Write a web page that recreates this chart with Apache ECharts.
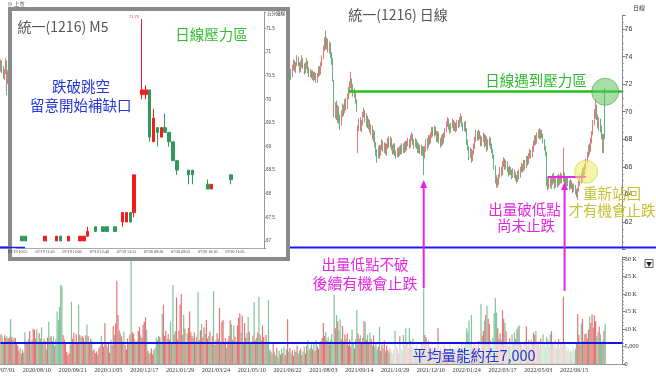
<!DOCTYPE html>
<html><head><meta charset="utf-8">
<script src="https://cdn.jsdelivr.net/npm/echarts@6/dist/echarts.min.js"></script>
<style>html,body{margin:0;padding:0;background:#fff;}#c{width:656px;height:378px;}</style>
</head><body><div id="c"></div>
<script>
// ---------------- DATA ----------------
// Daily axis tick labels (every 30 trading days)
const dayTicks = ['2020/07/01','2020/08/10','2020/09/21','2020/11/05','2020/12/17','2021/01/29','2021/03/24','2021/05/10','2021/06/22','2021/08/03','2021/09/14','2021/10/29','2021/12/10','2022/01/24','2022/03/17','2022/05/03','2022/06/15'];
const DAY_SLOTS = 521;      // trading-day slots on the axis (last ones blank)
const TAIL_START = 243;     // first daily bar visible to the right of the inset
// daily [open, close, low, high] visible at far left (bars 0-7)
const dailyHead = [
 [73.2,73.6,72.9,73.8],[73.6,73.1,72.8,73.7],[73.1,72.6,72.4,73.3],[72.6,72.9,72.3,73.1],
 [72.9,73.5,72.7,73.9],[73.5,72.3,71.2,73.7],[72.3,72.8,72.0,73.0],[72.8,73.2,72.6,73.4]
];
// daily [open, close, low, high] from bar 243 to 506 (bars 8-242 are hidden behind the inset)
const dailyTail = [
 [72.9,72.5,72.3,73.1],[72.6,73.2,72.5,73.4],[73.2,73.6,73.0,73.8],[73.5,73.1,72.9,73.7],
 [73.1,73.4,72.8,73.6],[73.4,73.9,73.3,74.1],[73.9,73.5,73.3,74.0],[73.4,73.0,72.8,73.6],
 [73.0,73.5,72.9,73.7],[73.5,73.8,73.2,74.1],[73.8,73.3,73.1,73.9],[73.3,72.9,72.7,73.5],
 [72.9,73.4,72.8,73.6],[73.4,73.6,73.1,73.9],[73.5,73.0,72.8,73.7],[73.0,72.7,72.5,73.2],
 [72.7,72.9,72.5,73.1],[72.9,72.6,72.4,73.0],[72.6,72.8,72.3,73.0],[72.8,72.4,72.2,72.9],
 [72.4,72.7,72.3,72.9],[72.7,72.3,72.1,72.8],[72.3,72.6,72.1,72.8],[72.6,73.1,72.5,73.3],
 [73.1,72.8,72.6,73.3],[72.8,73.4,72.7,73.6],
 [73.4,73.9,73.3,74.1],[73.9,74.6,73.8,74.8],[74.6,75.2,74.4,75.4],[75.2,74.8,74.5,75.9],
 [74.8,75.1,74.5,75.4],[75.1,74.6,74.3,75.3],[74.6,74.9,74.2,75.1],[74.9,74.2,73.9,75.0],
 [74.2,73.6,73.4,74.3],[73.8,72.4,72.2,73.9],[72.2,70.0,69.6,72.3],[69.9,70.4,69.5,70.7],
 [70.4,69.7,69.4,70.8],[69.7,70.3,69.2,70.5],[70.2,69.5,69.1,70.4],[69.4,69.1,68.7,69.8],
 [69.2,69.9,69.0,70.1],[69.9,70.3,69.6,70.6],[70.3,70.0,69.7,70.5],[70.0,70.7,69.9,70.9],
 [70.7,70.4,70.1,71.0],[70.4,71.1,70.2,71.3],[71.1,71.6,70.9,71.8],[71.6,71.9,71.3,72.2],
 [71.9,72.3,71.7,72.9],[72.2,71.8,71.5,72.4],[71.8,71.3,71.1,72.0],[71.3,71.5,71.0,71.7],
 [71.3,70.9,70.6,71.4],
 [70.8,70.2,70.0,70.9],[67.2,68.8,67.0,69.0],
 [68.8,69.3,68.6,69.5],[69.3,68.9,68.6,69.6],[68.9,69.1,68.5,69.4],[69.1,69.8,69.0,70.0],
 [69.8,70.1,69.6,70.3],[70.0,69.4,69.2,70.1],[69.4,69.6,68.9,69.9],[69.6,69.0,68.8,69.7],
 [69.0,69.3,68.7,69.5],[69.3,68.7,68.5,69.4],[68.7,68.9,68.3,69.1],
 [68.9,68.2,68.0,69.0],[68.2,68.5,67.8,68.7],[68.5,67.6,67.4,68.6],[67.6,67.1,66.8,67.8],
 [67.1,66.7,66.3,67.3],[66.7,67.3,66.6,67.5],[67.3,66.9,66.6,67.6],
 [66.9,67.4,66.8,67.6],[67.4,67.8,67.2,68.0],[67.8,67.3,67.1,67.9],[67.3,67.6,67.0,67.8],
 [67.6,67.1,66.9,67.7],[67.1,67.5,66.8,67.7],[67.5,67.9,67.3,68.1],[67.9,67.6,67.4,68.2],
 [67.6,68.0,67.4,68.2],[68.0,67.4,67.2,68.1],[67.4,67.1,66.9,67.6],[67.1,67.5,66.9,67.7],
 [67.5,67.0,66.8,67.7],[67.0,66.8,66.6,67.2],[66.8,67.2,66.7,67.4],[67.2,66.9,66.7,67.4],
 [66.9,67.4,66.8,67.5],[67.4,67.1,66.9,67.6],[67.1,67.5,66.9,67.7],[67.5,67.2,67.0,67.7],
 [67.2,67.6,67.0,67.8],[67.6,67.3,67.1,67.9],[67.3,67.7,67.2,67.9],[67.7,67.9,67.5,68.1],
 [67.9,67.5,67.3,68.0],[67.5,68.1,67.4,68.3],[68.1,68.3,67.9,68.5],[68.3,67.8,67.6,68.4],
 [67.8,67.5,67.3,68.0],[67.5,67.9,67.4,68.1],[67.9,67.6,67.3,68.0],[67.6,67.2,67.0,67.8],
 [67.2,67.5,67.0,67.7],[67.5,67.1,66.9,67.6],[67.1,67.4,66.8,67.6],[67.4,67.0,66.8,67.5],
 [67.0,66.6,65.4,67.5],
 [66.7,67.3,66.6,67.5],[67.3,67.8,67.1,68.0],[67.8,67.5,67.2,68.1],[67.5,68.1,67.4,68.3],
 [68.1,67.8,67.6,68.3],[67.8,68.3,67.7,68.5],[68.3,68.7,68.1,68.9],[68.7,68.4,68.2,68.9],
 [68.4,68.8,68.2,69.0],[68.8,68.5,68.3,68.9],[68.5,68.0,67.8,68.6],[68.0,68.4,67.8,68.6],
 [68.4,67.9,67.7,68.5],[67.9,67.6,67.4,68.1],[67.6,68.1,67.5,68.3],[68.1,67.8,67.6,68.4],
 [67.8,68.3,67.7,68.5],[68.3,68.6,68.1,68.8],
 [68.6,69.1,68.5,69.3],[69.1,69.4,68.9,69.6],[69.4,68.9,68.7,69.5],[68.9,68.6,68.4,69.1],
 [68.6,69.0,68.5,69.2],[69.0,69.3,68.8,69.5],[69.3,68.8,68.6,69.4],[68.8,69.1,68.6,69.3],
 [69.1,68.7,68.5,69.2],[68.7,69.2,68.6,69.4],[69.2,69.0,68.8,69.4],[69.0,69.4,68.9,69.6],
 [69.4,69.6,69.2,69.9],[69.6,69.1,68.9,69.7],[69.1,68.8,68.6,69.2],[68.8,69.2,68.6,69.3],
 [69.2,68.7,68.5,69.3],
 [68.7,67.8,67.6,68.8],[67.8,67.4,67.2,68.0],[67.4,66.8,66.5,67.5],[66.8,67.2,66.6,67.4],
 [67.2,66.6,66.3,67.3],[66.6,67.0,66.4,67.2],[67.0,67.5,66.9,67.7],
 [67.5,68.0,67.3,68.2],[68.0,68.4,67.8,68.7],[68.4,68.1,67.9,68.6],[68.1,68.5,67.9,68.7],
 [68.5,68.2,68.0,68.6],[68.2,67.7,67.5,68.3],
 [67.7,68.0,67.5,68.2],[68.0,68.3,67.8,68.5],[68.3,67.6,67.4,68.4],[67.6,68.1,67.5,68.3],
 [68.1,67.3,67.1,68.2],[67.3,67.8,67.2,68.0],[67.8,68.0,67.5,68.2],[68.0,67.5,67.3,68.1],
 [67.5,67.2,67.0,67.7],
 [67.2,66.8,66.6,67.3],[66.8,66.0,65.8,66.9],[66.0,65.0,64.8,66.1],[65.0,64.7,64.5,65.4],
 [64.7,64.9,64.5,65.2],[64.9,65.3,64.7,65.5],[65.3,65.8,65.2,66.0],[65.8,65.5,65.3,66.0],
 [65.5,66.2,65.4,66.4],[66.2,66.5,66.0,66.7],[66.5,66.0,65.8,66.6],[66.0,66.3,65.8,66.5],
 [66.3,65.8,65.6,66.4],[65.8,65.5,65.3,66.0],[65.5,65.9,65.4,66.1],[65.9,65.6,65.4,66.0],
 [65.6,65.3,65.1,65.8],
 [65.3,65.7,65.2,65.9],[65.7,65.4,65.2,65.8],[65.4,65.2,65.0,65.6],[65.2,65.0,64.8,65.4],
 [65.0,65.5,64.9,65.7],[65.5,65.3,65.1,65.8],[65.3,65.8,65.2,66.0],[65.8,66.1,65.6,66.3],
 [66.1,65.8,65.6,66.2],[65.8,66.3,65.7,66.5],[66.3,66.0,65.8,66.5],[66.0,66.6,65.9,66.8],
 [66.6,66.3,66.1,66.8],[66.3,66.8,66.2,67.0],[66.8,67.1,66.6,67.3],[67.1,66.8,66.6,67.2],
 [66.8,67.3,66.7,67.5],[67.3,67.7,67.1,67.9],
 [67.7,68.1,67.5,68.3],[68.1,67.8,67.6,68.3],[67.8,68.3,67.7,68.5],[68.3,68.5,68.1,68.7],
 [68.5,68.2,68.0,68.8],[68.2,68.6,68.0,68.7],[68.6,68.3,68.1,68.7],[68.3,67.9,67.7,68.4],
 [67.9,67.5,67.2,68.0],
 [67.3,67.0,66.8,67.5],[66.6,65.0,64.6,67.1],[65.0,64.6,64.3,65.3],[64.6,65.0,64.4,65.3],
 [65.0,64.7,64.5,65.3],[64.7,64.9,64.4,65.2],[64.9,65.3,64.7,65.5],[65.3,65.0,64.8,65.6],
 [65.0,64.6,64.4,65.2],[64.6,65.1,64.5,65.3],[65.1,64.8,64.5,65.4],[64.8,65.2,64.6,65.5],
 [65.2,64.9,64.7,65.4],[64.9,65.3,64.8,65.6],[65.3,65.0,64.8,65.5],[65.0,65.5,64.9,67.4],
 [65.4,65.0,64.8,65.6],[65.0,64.7,64.5,65.2],[64.7,65.1,64.6,65.3],[65.1,64.8,64.6,65.2],
 [64.8,64.5,64.3,65.0],[64.5,64.9,64.4,65.1],[64.9,64.6,64.4,65.0],[64.6,64.3,64.1,64.8],
 [64.3,64.6,64.2,64.8],[64.6,64.2,64.0,64.7],[64.2,64.0,63.8,64.4],[64.0,64.3,63.6,64.5],
 [64.3,64.8,64.2,65.0],[64.8,65.2,64.6,65.4],[65.2,65.0,64.8,65.6],[65.0,65.7,64.9,65.9],
 [65.7,65.5,65.3,66.0],[65.5,66.0,65.4,66.2],[66.0,66.4,65.8,66.6],
 [66.4,66.9,66.3,67.1],[66.9,67.4,66.7,67.6],[67.4,67.2,66.9,67.7],[67.2,67.9,67.1,68.1],
 [67.9,68.4,67.7,68.6],[68.4,69.2,68.3,69.4],[69.2,69.9,69.0,70.2],[69.9,70.3,69.5,70.9],
 [70.3,69.6,69.4,70.5],[69.6,69.1,68.8,69.8],[69.1,69.4,68.6,69.6],[69.4,68.8,68.5,69.5],
 [68.8,68.2,68.0,69.0],
 [68.2,67.3,67.0,68.4],[67.1,68.4,67.0,68.4],[70.1,68.3,68.0,71.7]
];
// daily volume (thousand shares), bars 0-506
const volumes = [
 8.5,7.9,6.3,8.2,7.5,7.9,7.2,7.6,12.8,7.8,
 6.9,7.6,7.4,6.1,5.3,3.8,4.6,2.9,4.1,3.2,
 9.1,6.4,5.8,7.1,9.4,5.6,6.8,10.1,9.8,7.2,
 9.9,6.4,8.8,7.3,10.5,5.9,7.2,6.6,4.2,7.6,
 12.1,7.4,8.0,6.6,7.9,5.2,7.1,15.0,12.6,16.3,
 22.5,22.4,8.2,7.0,6.1,3.4,2.6,3.1,5.6,17.8,
 7.2,9.0,6.3,8.5,6.0,17.0,8.3,7.4,8.1,7.6,
 6.4,8.2,11.3,7.9,5.9,7.3,6.6,3.8,4.2,3.1,
 3.6,2.8,4.4,5.1,8.0,6.2,4.9,11.7,5.6,4.8,
 5.9,3.2,6.9,5.4,10.8,8.3,11.6,23.8,14.0,9.6,
 8.8,7.9,6.4,9.2,5.5,4.1,7.3,6.2,8.4,31.0,
 9.1,8.7,7.0,5.8,6.6,9.4,10.6,8.2,7.6,11.2,
 12.0,13.3,9.7,3.8,2.9,3.3,4.5,2.7,3.9,4.6,
 7.4,6.8,8.1,7.7,6.3,14.3,16.9,8.0,9.5,7.2,
 8.6,6.9,12.1,5.8,22.6,8.4,9.4,19.0,7.0,9.6,
 17.0,20.0,8.3,14.0,10.1,6.2,8.7,10.3,15.0,9.1,
 8.0,7.4,9.0,6.5,7.7,20.5,6.8,9.6,11.4,7.6,
 10.5,8.6,12.6,7.3,8.0,9.3,6.2,7.9,20.8,5.4,
 6.8,8.8,7.2,16.0,6.4,12.0,12.6,5.7,7.4,4.6,
 6.7,8.1,12.5,11.3,6.9,11.0,7.8,6.4,11.0,13.2,
 14.5,9.0,13.8,6.2,11.7,7.5,8.8,13.4,9.2,5.6,
 6.4,8.1,17.7,6.8,7.5,9.0,19.2,8.4,6.9,11.0,
 7.7,5.9,8.3,6.4,18.2,4.1,3.6,2.8,6.0,3.3,
 2.4,4.6,1.9,3.8,2.7,4.4,3.1,5.0,2.5,4.2,
 12.8,3.5,4.6,2.8,3.9,2.3,4.1,3.4,5.2,2.9,
 3.8,4.4,2.6,3.6,4.9,3.0,5.3,6.8,3.9,4.5,
 5.6,4.2,6.1,3.7,6.8,5.0,4.3,5.8,6.6,7.4,
 11.7,8.0,9.2,6.7,7.8,5.6,6.9,8.6,6.3,19.7,
 10.2,14.0,12.2,9.6,12.8,7.0,10.9,6.5,8.4,7.2,
 8.8,5.3,6.9,4.8,9.9,6.0,4.4,7.1,15.4,8.7,
 7.3,8.2,6.1,7.6,12.3,11.9,6.9,8.4,6.3,9.0,
 7.1,5.2,8.2,5.0,6.0,4.1,4.9,10.6,3.8,5.6,
 4.5,6.7,3.6,5.2,4.0,3.2,4.6,3.5,2.9,4.1,
 9.5,5.0,4.3,3.1,7.9,4.4,3.8,8.3,5.3,10.2,
 5.9,4.6,10.2,6.6,4.8,7.2,3.9,4.4,5.5,3.4,
 4.7,3.6,5.8,6.3,21.6,8.3,7.6,4.1,6.7,5.0,
 3.3,4.8,2.9,5.1,3.7,4.2,10.2,3.4,4.6,3.9,
 2.8,5.4,4.5,3.1,4.0,2.6,5.6,3.5,4.3,2.8,
 3.9,4.7,3.0,5.2,4.1,3.6,6.0,4.4,5.1,6.2,
 10.2,9.0,12.4,5.9,14.0,4.8,6.2,3.9,5.4,4.6,
 6.6,4.3,17.2,8.1,9.4,12.4,14.0,16.6,12.9,11.4,
 6.8,4.9,7.6,14.5,18.8,14.7,10.2,7.1,8.7,6.9,
 15.4,12.9,11.7,9.3,6.3,5.0,7.4,4.8,8.4,6.1,
 9.0,7.2,9.9,10.5,11.1,6.0,5.5,4.4,5.9,6.4,
 10.7,5.1,6.8,4.6,7.0,5.7,9.0,8.3,9.4,5.6,
 6.5,4.9,7.3,5.4,8.5,6.0,4.7,7.8,6.9,5.2,
 8.4,9.4,6.2,5.3,6.8,4.5,5.9,7.1,4.2,6.0,
 5.1,19.2,6.4,5.2,3.8,4.6,3.2,4.0,3.5,4.9,
 3.7,4.4,6.1,14.2,8.3,5.6,11.6,12.9,6.6,8.5,
 8.7,7.2,9.8,13.6,11.7,14.2,10.4,13.9,12.2,7.9,
 9.1,10.7,8.4,5.8,6.7,9.6,11.6
];
// up/down colour of the volume bars whose candles are hidden (bars 0-242): r = up, g = down
const volDirHidden =
 'rrrrrrrrgr'+'rgrrrrgrrg'+'grrgrgrrrr'+'ggrggrgrgr'+'ggrggrgggg'+'ggrrrrrrrg'+
 'rrgrrgrgrr'+'grgrrgrrrr'+'rgrrgrrrrg'+'rrgrrgrrrr'+'grrgrrrgrg'+'rrgrgrrgrr'+
 'rrgrrgrrrg'+'gggrggrrrg'+'rrgrgrgrrr'+'rrggrrgrrr'+'rgrgrgrrgr'+'rgrrgrgrgg'+
 'rrgrgrrgrg'+'rrrgrgrgrr'+'rgrgrrggrg'+'grgrgrgrgr'+'rgrgggrgrg'+'grggrgrgrg'+'rgr';
// inset M5 chart: tick labels every 7 five-minute slots
const m5Ticks = ['07/19 10:55','07/19 11:30','07/19 12:05','07/19 12:40','07/19 13:15','07/20 09:20','07/20 09:55','07/20 10:30','07/20 11:05'];
const M5_SLOTS = 64;
// inset 5-minute bars: [slot, open, close, low, high]
const m5Bars = [
 [1,67.1,67.0,67.0,67.1],[2,67.1,67.0,67.0,67.1],[7,67.0,67.1,67.0,67.1],[10,67.0,67.1,67.0,67.1],
 [11,67.1,67.0,67.0,67.1],[13,67.0,67.1,67.0,67.1],[16,67.0,67.1,67.0,67.1],[17,67.0,67.1,67.0,67.1],
 [18,67.1,67.2,67.1,67.3],[20,67.3,67.2,67.2,67.3],[22,67.3,67.2,67.2,67.3],[23,67.3,67.2,67.2,67.3],
 [25,67.3,67.2,67.2,67.3],[27,67.4,67.6,67.3,67.6],[28,67.4,67.6,67.4,67.6],[29,67.6,67.4,67.4,67.6],
 [30,67.6,68.4,67.5,68.4],[32,70.1,70.2,70.0,71.7],[33,70.1,70.2,70.0,70.3],[34,70.2,69.2,69.1,70.2],
 [35,69.1,69.6,69.1,69.8],[36,69.4,69.3,69.0,69.4],[37,69.2,69.4,69.2,69.4],[38,69.4,69.3,69.3,69.7],
 [39,69.3,69.1,69.0,69.3],[40,69.1,68.7,68.7,69.1],[41,68.7,68.5,68.4,68.7],[44,68.5,68.4,68.2,68.5],
 [45,68.5,68.4,68.2,68.5],[49,68.2,68.1,68.1,68.3],[50,68.1,68.2,68.1,68.2],[55,68.4,68.3,68.2,68.4]
];
// annotation levels
const dailyResist = 71.45, dailyLowLine = 65.3, avgVolume = 6.0;
const m5Resist = 71.7, m5GapLine = 70.1;

// ---------------- BUILD ----------------
const CJK = '"Noto Sans CJK TC","Noto Sans CJK SC",sans-serif';
const UP = '#e57a7a', DN = '#64b27f', VUP = '#e77474', VDN = '#80c49b';
const dayCats = Array.from({length: DAY_SLOTS}, (_, i) => String(i));
const candle = new Array(DAY_SLOTS).fill('-');
dailyHead.forEach((d, i) => candle[i] = d);
dailyTail.forEach((d, i) => candle[TAIL_START + i] = d);
const volData = volumes.map((v, i) => {
  const c = candle[i];
  const up = c !== '-' ? c[1] >= c[0] : volDirHidden[i] === 'r';
  return {value: v, itemStyle: {color: up ? VUP : VDN}};
});
const m5Cats = Array.from({length: M5_SLOTS}, (_, i) => String(i));
const m5Data = new Array(M5_SLOTS).fill('-');
m5Bars.forEach(b => m5Data[b[0]] = [b[1], b[2], b[3], b[4]]);

const dayTickFn = (i) => i % 30 === 0 && i / 30 < dayTicks.length;
const m5TickFn = (i) => i % 7 === 0 && i / 7 < m5Ticks.length;

const chart = echarts.init(document.getElementById('c'), null, {renderer: 'canvas'});
const option = {
  animation: false,
  grid: [
    {left: 0.4, right: 33.5, top: 15.2, height: 234.4, outerBoundsMode: 'none', containLabel: false},
    {left: 0.4, right: 33.5, top: 257, height: 107, outerBoundsMode: 'none', containLabel: false},
    {left: 16, top: 12, width: 248, height: 236, outerBoundsMode: 'none', containLabel: false}
  ],
  xAxis: [
    {type: 'category', gridIndex: 0, data: dayCats, show: false},
    {type: 'category', gridIndex: 1, data: dayCats,
     axisLine: {lineStyle: {color: '#999'}},
     axisTick: {alignWithLabel: true, interval: dayTickFn, length: 3, lineStyle: {color: '#777'}},
     axisLabel: {interval: dayTickFn, formatter: (v, i) => dayTicks[i / 30] || '', fontSize: 6.2,
                 fontFamily: 'Liberation Serif', color: '#333', margin: 3, alignMinLabel: 'center', alignMaxLabel: 'center'}},
    {type: 'category', gridIndex: 2, data: m5Cats, zlevel: 2,
     axisLine: {lineStyle: {color: '#aaa'}},
     axisTick: {alignWithLabel: true, interval: m5TickFn, length: 2, lineStyle: {color: '#999'}},
     axisLabel: {interval: m5TickFn, formatter: (v, i) => m5Ticks[i / 7] || '', fontSize: 4,
                 fontFamily: 'Liberation Serif', color: '#333', margin: 2}}
  ],
  yAxis: [
    {type: 'value', gridIndex: 0, position: 'right', min: 60, max: 77, interval: 2, splitLine: {show: false},
     axisLine: {show: true, lineStyle: {color: '#888'}},
     axisTick: {show: true, length: 3, lineStyle: {color: '#777'}},
     minorTick: {show: true, splitNumber: 4, length: 1.5, lineStyle: {color: '#aaa'}},
     axisLabel: {formatter: v => (v >= 62 && v <= 76 && v % 2 === 0) ? String(v) : '', fontSize: 7,
                 fontFamily: 'Liberation Sans', color: '#333', margin: 2}},
    {type: 'value', gridIndex: 1, position: 'right', min: 0, max: 30.57, interval: 5, splitLine: {show: false},
     axisLine: {show: true, lineStyle: {color: '#888'}},
     axisTick: {show: true, length: 3, lineStyle: {color: '#777'}},
     minorTick: {show: true, splitNumber: 5, length: 1.5, lineStyle: {color: '#aaa'}},
     axisLabel: {formatter: v => v === 0 ? '0' : v === 5 ? '5,000' : (v % 5 === 0 && v <= 30) ? v + ' K' : '',
                 fontSize: 6.3, fontFamily: 'Liberation Serif', color: '#333', margin: 2}},
    {type: 'value', gridIndex: 2, position: 'right', min: 66.85, max: 71.85, splitNumber: 10, zlevel: 2,
     splitLine: {show: false},
     axisLine: {show: true, lineStyle: {color: '#999'}},
     axisTick: {show: true, length: 2, lineStyle: {color: '#999'}},
     axisLabel: {formatter: v => Math.abs(v * 2 - Math.round(v * 2)) < 1e-6 ? String(v) : '', fontSize: 4.5,
                 fontFamily: 'Liberation Sans', color: '#444', margin: 2}}
  ],
  series: [
    {type: 'candlestick', xAxisIndex: 0, yAxisIndex: 0, data: candle, barWidth: 1,
     itemStyle: {color: UP, color0: DN, borderColor: UP, borderColor0: DN, borderWidth: 1},
     markLine: {silent: true, symbol: 'none', animation: false, label: {show: false},
       data: [
         [{coord: [291, dailyResist], lineStyle: {color: '#1fc21f', width: 2.5, type: 'solid'}}, {coord: [520, dailyResist]}],
         [{coord: [458, dailyLowLine], lineStyle: {color: '#e32ae3', width: 2, type: 'solid'}}, {coord: [490, dailyLowLine]}]
       ]}},
    {type: 'bar', xAxisIndex: 1, yAxisIndex: 1, data: volData, barWidth: 1.2,
     markLine: {silent: true, symbol: 'none', animation: false, label: {show: false},
       lineStyle: {color: '#1515e3', width: 2, type: 'solid'}, data: [{yAxis: avgVolume}]}},
    {type: 'candlestick', xAxisIndex: 2, yAxisIndex: 2, data: m5Data, barWidth: 3, zlevel: 2, z: 5,
     itemStyle: {color: '#f01e1e', color0: '#2f9a5c', borderColor: '#f01e1e', borderColor0: '#2f9a5c', borderWidth: 1},
     markLine: {silent: true, symbol: 'none', animation: false, label: {show: false},
       data: [
         [{coord: [26, m5Resist], lineStyle: {color: '#35c535', width: 2, type: 'solid'}}, {coord: [61, m5Resist]}],
         [{coord: [29, m5GapLine], lineStyle: {color: '#1c38dc', width: 2, type: 'solid'}}, {coord: [41, m5GapLine]}]
       ]}}
  ]
};
chart.setOption(option);

// ---------------- ANNOTATIONS ----------------
const P = (g, x, y) => chart.convertToPixel({gridIndex: g}, [x, y]);
function txt(x, y, s, color, size, zl, extra) {
  return Object.assign({type: 'text', zlevel: zl, z: 100, silent: true,
    style: {x: x, y: y, text: s, fill: color, fontSize: size, fontFamily: CJK,
            textAlign: 'center', textVerticalAlign: 'middle', verticalAlign: 'middle'}}, extra || {});
}
function arrow(xIdx, topPrice, botVol) {
  const t = P(0, xIdx, topPrice), b = P(1, xIdx, botVol);
  const x = t[0];
  return [
    {type: 'line', zlevel: 1, z: 60, silent: true, shape: {x1: x, y1: t[1] + 6, x2: x, y2: b[1]},
     style: {stroke: '#e324e3', lineWidth: 2}},
    {type: 'polygon', zlevel: 1, z: 60, silent: true, shape: {points: [[x, t[1]], [x - 3.5, t[1] + 8], [x + 3.5, t[1] + 8]]},
     style: {fill: '#e324e3'}}
  ];
}
const gC = P(0, 506, dailyResist), yC = P(0, 490, 65.65);
const MAG = '#e229e2', GRN = '#2fb82f', OLV = '#c6c033', BLU = '#2436d8';
const elements = [
  // panel divider
  {type: 'line', zlevel: 0, z: 50, silent: true, shape: {x1: 0, y1: 247.5, x2: 656, y2: 247.5}, style: {stroke: '#1b1bf0', lineWidth: 2}},
  // faded patch under the average-volume caption
  {type: 'rect', zlevel: 1, z: 1, silent: true, shape: {x: 390, y: 344.2, width: 185, height: 19.6}, style: {fill: 'rgba(255,255,255,0.62)'}},
  // inset frame
  {type: 'rect', zlevel: 1, z: 2, silent: true, shape: {x: 10, y: 9, width: 278, height: 250}, style: {fill: '#fff', stroke: '#8a8a8a', lineWidth: 4}},
  {type: 'line', zlevel: 2, z: 100, silent: true, shape: {x1: 0, y1: 247.5, x2: 25, y2: 247.5}, style: {stroke: '#1b1bf0', lineWidth: 1.5}},
  // circles
  {type: 'circle', zlevel: 1, z: 40, silent: true, shape: {cx: gC[0], cy: gC[1], r: 13.5}, style: {fill: 'rgba(95,195,95,0.55)', stroke: 'rgba(70,170,70,0.6)', lineWidth: 1}},
  {type: 'circle', zlevel: 1, z: 40, silent: true, shape: {cx: yC[0], cy: yC[1], r: 11.5}, style: {fill: 'rgba(236,236,100,0.55)', stroke: 'rgba(205,205,70,0.6)', lineWidth: 1}},
  ...arrow(354, 65.05, 21.7),
  ...arrow(472, 64.9, 20.9),
  // main texts
  txt(398, 15, '統一(1216) 日線', '#555', 14, 1),
  txt(536, 80.5, '日線遇到壓力區', GRN, 14.5, 1),
  txt(524.5, 209.5, '出量破低點', MAG, 14.5, 1),
  txt(526, 225.5, '尚未止跌', MAG, 14.5, 1),
  txt(612, 193.5, '重新站回', OLV, 14.5, 1),
  txt(612, 210.5, '才有機會止跌', OLV, 14.5, 1),
  txt(365, 264.5, '出量低點不破', MAG, 14.5, 1),
  txt(365, 283.5, '後續有機會止跌', MAG, 15, 1),
  txt(474, 355.5, '平均量能約在7,000', BLU, 14.5, 1),
  txt(639, 7.5, '日線', '#333', 6, 1),
  txt(16, 3.5, '⊕ 上市', '#666', 5.5, 1),
  // volume panel button
  {type: 'rect', zlevel: 1, z: 50, silent: true, shape: {x: 645, y: 259.5, width: 8, height: 8}, style: {fill: '#fff', stroke: '#444', lineWidth: 0.8}},
  txt(649, 263.8, '▼', '#222', 6, 1),
  // inset texts
  txt(63, 26.5, '統一(1216) M5', '#555', 14, 2),
  txt(211.5, 34, '日線壓力區', '#31bf31', 14.5, 2),
  txt(81, 86, '跌破跳空', BLU, 14.5, 2),
  txt(80.7, 105, '留意開始補缺口', BLU, 14.5, 2),
  txt(276, 13, '五分鐘線', '#333', 4.5, 2),
  txt(134, 16.5, '71.70', '#e33', 4, 2)
];
chart.setOption({graphic: {elements: elements}});
</script>
</body></html>
